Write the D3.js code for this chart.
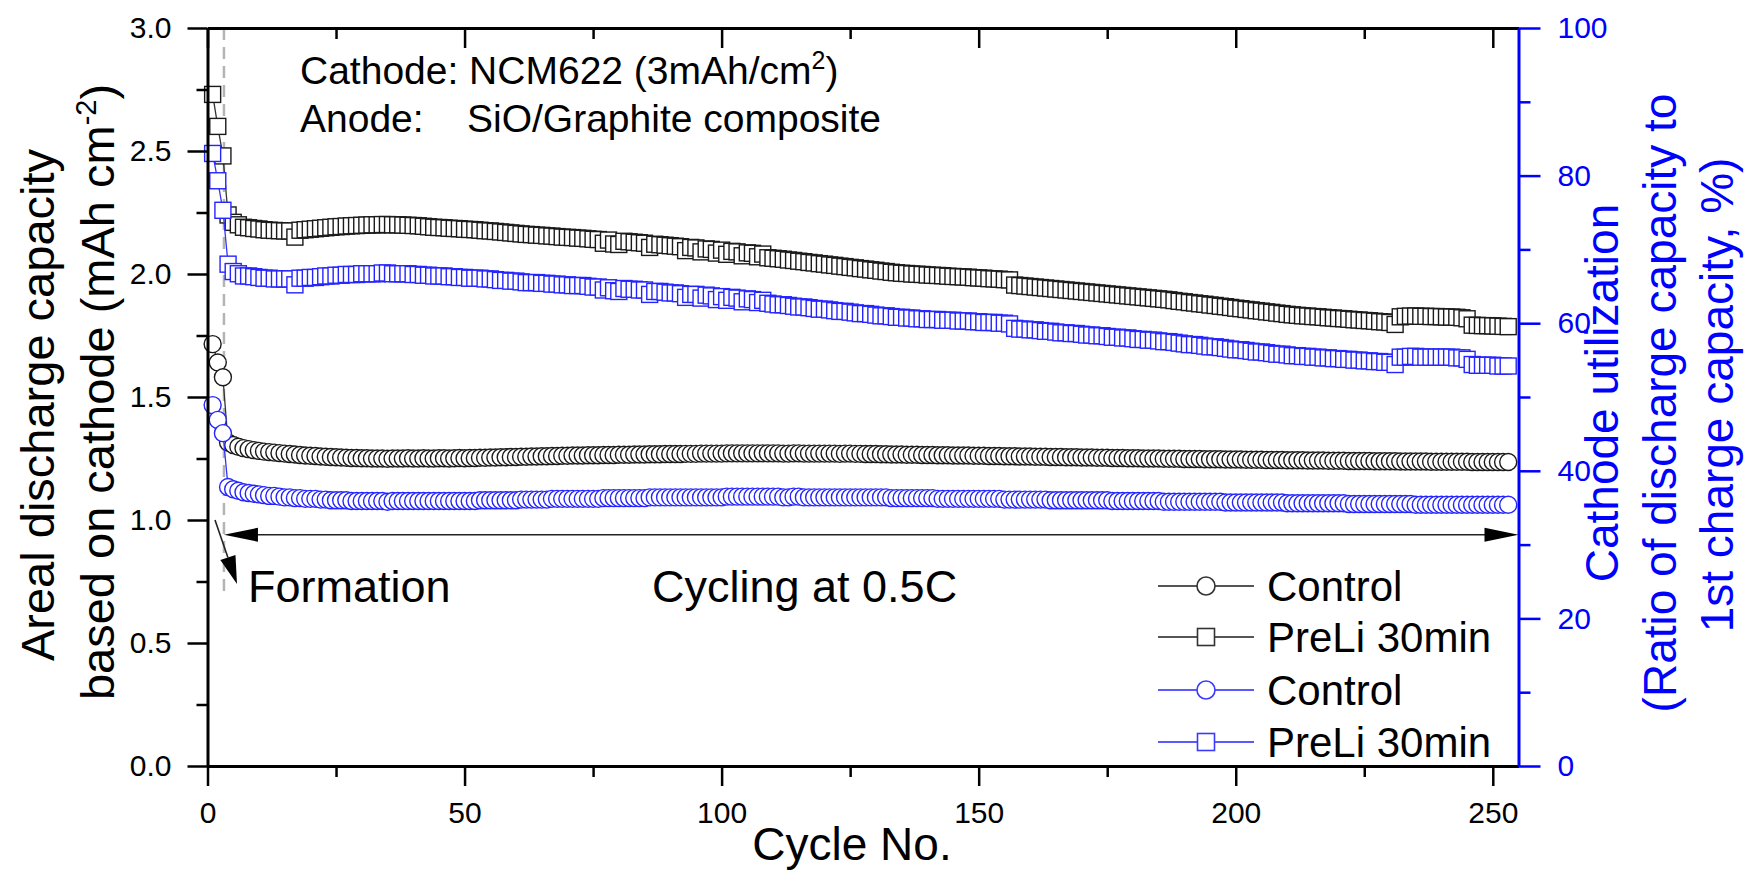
<!DOCTYPE html>
<html>
<head>
<meta charset="utf-8">
<script src="https://cdn.jsdelivr.net/npm/d3@7"></script>
<style>
  html, body { margin: 0; padding: 0; background: #fff; }
  svg { display: block; font-family: "Liberation Sans", Arial, sans-serif; }
</style>
</head>
<body>
<div id="viz"></div>
<script>
// ---- data ----
var cycles = d3.range(1, 254);   // cycle numbers 1..253

// PreLi 30min, areal discharge capacity (mAh cm-2), left axis
var preliArea = [
  2.73, 2.60, 2.48, 2.24, 2.21, 2.20, 2.19, 2.188, 2.185, 2.183,
  2.18, 2.178, 2.177, 2.176, 2.175, 2.175, 2.15, 2.178, 2.18, 2.182,
  2.184, 2.186, 2.188, 2.19, 2.192, 2.193, 2.195, 2.196, 2.197, 2.198,
  2.199, 2.20, 2.20, 2.201, 2.201, 2.20, 2.20, 2.199, 2.198, 2.197,
  2.196, 2.194, 2.192, 2.19, 2.189, 2.188, 2.186, 2.185, 2.184, 2.182,
  2.181, 2.18, 2.178, 2.176, 2.175, 2.173, 2.171, 2.169, 2.167, 2.165,
  2.163, 2.161, 2.16, 2.158, 2.157, 2.155, 2.154, 2.152, 2.15, 2.149,
  2.148, 2.146, 2.145, 2.143, 2.141, 2.14, 2.125, 2.138, 2.122, 2.12,
  2.133, 2.131, 2.129, 2.127, 2.125, 2.108, 2.121, 2.119, 2.117, 2.115,
  2.113, 2.111, 2.095, 2.108, 2.106, 2.09, 2.102, 2.10, 2.085, 2.097,
  2.08, 2.092, 2.09, 2.074, 2.086, 2.084, 2.07, 2.081, 2.066, 2.064,
  2.062, 2.06, 2.057, 2.055, 2.052, 2.05, 2.047, 2.045, 2.042, 2.04,
  2.037, 2.035, 2.032, 2.03, 2.027, 2.025, 2.022, 2.02, 2.017, 2.015,
  2.012, 2.01, 2.007, 2.005, 2.003, 2.002, 2.0, 1.999, 1.998, 1.996,
  1.995, 1.994, 1.993, 1.991, 1.99, 1.989, 1.988, 1.987, 1.985, 1.984,
  1.983, 1.981, 1.98, 1.979, 1.977, 1.976, 1.955, 1.953, 1.951, 1.949,
  1.947, 1.945, 1.943, 1.941, 1.939, 1.937, 1.935, 1.933, 1.931, 1.929,
  1.927, 1.925, 1.923, 1.921, 1.919, 1.917, 1.915, 1.913, 1.911, 1.909,
  1.907, 1.905, 1.903, 1.901, 1.899, 1.897, 1.895, 1.892, 1.889, 1.887,
  1.884, 1.882, 1.879, 1.877, 1.874, 1.872, 1.869, 1.867, 1.864, 1.861,
  1.859, 1.856, 1.854, 1.851, 1.849, 1.846, 1.844, 1.841, 1.839, 1.836,
  1.834, 1.832, 1.83, 1.829, 1.827, 1.826, 1.824, 1.822, 1.821, 1.819,
  1.818, 1.816, 1.814, 1.813, 1.811, 1.81, 1.808, 1.806, 1.805, 1.803,
  1.795, 1.826, 1.828, 1.829, 1.829, 1.828, 1.828, 1.827, 1.827, 1.826,
  1.825, 1.825, 1.824, 1.822, 1.818, 1.792, 1.791, 1.79, 1.79, 1.789,
  1.788, 1.787, 1.786
];

// Control, areal discharge capacity (mAh cm-2), left axis
var controlArea = [
  1.715, 1.64, 1.58, 1.315, 1.305, 1.298, 1.292, 1.288, 1.284, 1.281,
  1.278, 1.276, 1.274, 1.272, 1.27, 1.268, 1.266, 1.264, 1.262, 1.261,
  1.26, 1.258, 1.257, 1.256, 1.255, 1.254, 1.253, 1.252, 1.252, 1.251,
  1.251, 1.25, 1.25, 1.25, 1.249, 1.25, 1.25, 1.25, 1.251, 1.25,
  1.25, 1.251, 1.25, 1.25, 1.251, 1.251, 1.25, 1.251, 1.252, 1.251,
  1.252, 1.252, 1.253, 1.253, 1.254, 1.254, 1.255, 1.255, 1.256, 1.256,
  1.257, 1.257, 1.258, 1.258, 1.259, 1.259, 1.26, 1.26, 1.261, 1.261,
  1.262, 1.262, 1.262, 1.263, 1.263, 1.263, 1.264, 1.264, 1.264, 1.265,
  1.265, 1.265, 1.266, 1.266, 1.266, 1.267, 1.267, 1.267, 1.268, 1.268,
  1.268, 1.268, 1.269, 1.269, 1.269, 1.27, 1.27, 1.27, 1.27, 1.27,
  1.271, 1.271, 1.271, 1.271, 1.271, 1.271, 1.271, 1.271, 1.271, 1.271,
  1.271, 1.27, 1.27, 1.271, 1.271, 1.27, 1.27, 1.27, 1.27, 1.27,
  1.27, 1.27, 1.269, 1.27, 1.27, 1.269, 1.269, 1.268, 1.268, 1.268,
  1.267, 1.267, 1.266, 1.266, 1.266, 1.265, 1.265, 1.265, 1.264, 1.264,
  1.264, 1.263, 1.263, 1.263, 1.262, 1.262, 1.262, 1.262, 1.261, 1.261,
  1.261, 1.26, 1.26, 1.26, 1.259, 1.259, 1.259, 1.258, 1.258, 1.258,
  1.257, 1.257, 1.257, 1.256, 1.256, 1.256, 1.255, 1.255, 1.255, 1.254,
  1.254, 1.254, 1.253, 1.253, 1.253, 1.252, 1.252, 1.252, 1.251, 1.251,
  1.251, 1.25, 1.25, 1.25, 1.25, 1.249, 1.249, 1.249, 1.249, 1.248,
  1.248, 1.248, 1.248, 1.247, 1.247, 1.247, 1.247, 1.246, 1.246, 1.246,
  1.246, 1.245, 1.245, 1.245, 1.245, 1.244, 1.244, 1.244, 1.244, 1.243,
  1.243, 1.243, 1.243, 1.242, 1.242, 1.242, 1.242, 1.241, 1.241, 1.241,
  1.241, 1.24, 1.24, 1.24, 1.24, 1.24, 1.239, 1.239, 1.239, 1.239,
  1.239, 1.238, 1.238, 1.238, 1.238, 1.238, 1.238, 1.237, 1.237, 1.237,
  1.237, 1.237, 1.237, 1.237, 1.237, 1.236, 1.236, 1.236, 1.236, 1.236,
  1.236, 1.236, 1.236
];

// PreLi 30min, cathode utilization (%), right axis
var preliUtil = [
  83.0, 79.3, 75.3, 68.0, 67.0, 66.7, 66.4, 66.4, 66.3, 66.2,
  66.1, 66.1, 66.0, 66.0, 66.0, 66.0, 65.2, 66.1, 66.1, 66.2,
  66.2, 66.3, 66.4, 66.4, 66.5, 66.5, 66.6, 66.6, 66.6, 66.7,
  66.7, 66.7, 66.7, 66.8, 66.8, 66.7, 66.7, 66.7, 66.7, 66.6,
  66.6, 66.5, 66.5, 66.4, 66.4, 66.4, 66.3, 66.3, 66.2, 66.2,
  66.1, 66.1, 66.1, 66.0, 66.0, 65.9, 65.8, 65.8, 65.7, 65.7,
  65.6, 65.5, 65.5, 65.5, 65.4, 65.4, 65.3, 65.3, 65.2, 65.2,
  65.1, 65.1, 65.1, 65.0, 64.9, 64.9, 64.5, 64.8, 64.4, 64.3,
  64.7, 64.6, 64.6, 64.5, 64.5, 63.9, 64.3, 64.3, 64.2, 64.1,
  64.1, 64.0, 63.5, 63.9, 63.9, 63.4, 63.8, 63.7, 63.2, 63.6,
  63.1, 63.5, 63.4, 62.9, 63.3, 63.2, 62.8, 63.1, 62.7, 62.6,
  62.5, 62.5, 62.4, 62.3, 62.2, 62.2, 62.1, 62.0, 61.9, 61.9,
  61.8, 61.7, 61.6, 61.6, 61.5, 61.4, 61.3, 61.3, 61.2, 61.1,
  61.0, 61.0, 60.9, 60.8, 60.8, 60.7, 60.7, 60.6, 60.6, 60.5,
  60.5, 60.5, 60.4, 60.4, 60.4, 60.3, 60.3, 60.3, 60.2, 60.2,
  60.1, 60.1, 60.1, 60.0, 60.0, 59.9, 59.3, 59.2, 59.2, 59.1,
  59.1, 59.0, 58.9, 58.9, 58.8, 58.7, 58.7, 58.6, 58.6, 58.5,
  58.4, 58.4, 58.3, 58.3, 58.2, 58.1, 58.1, 58.0, 58.0, 57.9,
  57.8, 57.8, 57.7, 57.7, 57.6, 57.5, 57.5, 57.4, 57.3, 57.2,
  57.1, 57.1, 57.0, 56.9, 56.8, 56.8, 56.7, 56.6, 56.5, 56.4,
  56.4, 56.3, 56.2, 56.1, 56.1, 56.0, 55.9, 55.8, 55.8, 55.7,
  55.6, 55.6, 55.5, 55.5, 55.4, 55.4, 55.3, 55.3, 55.2, 55.2,
  55.1, 55.1, 55.0, 55.0, 54.9, 54.9, 54.8, 54.8, 54.7, 54.7,
  54.4, 55.4, 55.4, 55.5, 55.5, 55.4, 55.4, 55.4, 55.4, 55.4,
  55.4, 55.4, 55.3, 55.3, 55.1, 54.4, 54.3, 54.3, 54.3, 54.3,
  54.2, 54.2, 54.2
];

// Control, cathode utilization (%), right axis
var controlUtil = [
  48.9, 46.9, 45.1, 37.8, 37.5, 37.3, 37.1, 37.0, 36.9, 36.8,
  36.7, 36.6, 36.6, 36.5, 36.4, 36.4, 36.3, 36.3, 36.2, 36.2,
  36.2, 36.1, 36.1, 36.0, 36.0, 36.0, 36.0, 35.9, 35.9, 35.9,
  35.9, 35.9, 35.9, 35.9, 35.8, 35.9, 35.9, 35.9, 35.9, 35.9,
  35.9, 35.9, 35.9, 35.9, 35.9, 35.9, 35.9, 35.9, 35.9, 35.9,
  35.9, 35.9, 36.0, 36.0, 36.0, 36.0, 36.0, 36.0, 36.0, 36.0,
  36.1, 36.1, 36.1, 36.1, 36.1, 36.1, 36.2, 36.2, 36.2, 36.2,
  36.2, 36.2, 36.2, 36.2, 36.2, 36.2, 36.3, 36.3, 36.3, 36.3,
  36.3, 36.3, 36.3, 36.3, 36.3, 36.4, 36.4, 36.4, 36.4, 36.4,
  36.4, 36.4, 36.4, 36.4, 36.4, 36.4, 36.4, 36.4, 36.4, 36.4,
  36.5, 36.5, 36.5, 36.5, 36.5, 36.5, 36.5, 36.5, 36.5, 36.5,
  36.5, 36.4, 36.4, 36.5, 36.5, 36.4, 36.4, 36.4, 36.4, 36.4,
  36.4, 36.4, 36.4, 36.4, 36.4, 36.4, 36.4, 36.4, 36.4, 36.4,
  36.4, 36.4, 36.3, 36.3, 36.3, 36.3, 36.3, 36.3, 36.3, 36.3,
  36.3, 36.2, 36.2, 36.2, 36.2, 36.2, 36.2, 36.2, 36.2, 36.2,
  36.2, 36.2, 36.2, 36.2, 36.1, 36.1, 36.1, 36.1, 36.1, 36.1,
  36.1, 36.1, 36.1, 36.0, 36.0, 36.0, 36.0, 36.0, 36.0, 36.0,
  36.0, 36.0, 36.0, 36.0, 36.0, 35.9, 35.9, 35.9, 35.9, 35.9,
  35.9, 35.9, 35.9, 35.9, 35.9, 35.8, 35.8, 35.8, 35.8, 35.8,
  35.8, 35.8, 35.8, 35.8, 35.8, 35.8, 35.8, 35.7, 35.7, 35.7,
  35.7, 35.7, 35.7, 35.7, 35.7, 35.7, 35.7, 35.7, 35.7, 35.6,
  35.6, 35.6, 35.6, 35.6, 35.6, 35.6, 35.6, 35.6, 35.6, 35.6,
  35.6, 35.5, 35.5, 35.5, 35.5, 35.5, 35.5, 35.5, 35.5, 35.5,
  35.5, 35.5, 35.5, 35.5, 35.4, 35.4, 35.4, 35.4, 35.4, 35.4,
  35.4, 35.4, 35.4, 35.4, 35.4, 35.4, 35.4, 35.4, 35.4, 35.4,
  35.4, 35.4, 35.4
];

var xTicks = [0, 50, 100, 150, 200, 250];
var xMinorTicks = [25, 75, 125, 175, 225];
var yLeftTicks = [0, 0.5, 1.0, 1.5, 2.0, 2.5, 3.0];
var yLeftMinor = [0.25, 0.75, 1.25, 1.75, 2.25, 2.75];
var yRightTicks = [0, 20, 40, 60, 80, 100];
var yRightMinor = [10, 30, 50, 70, 90];
var legendLabels = ["Control", "PreLi 30min", "Control", "PreLi 30min"];

var formationEnd = 3.2;   // dashed separator, in cycles

// ---- layout ----
var W = 1748, H = 871;
var plotLeft = 207.5, plotRight = 1518.5, plotTop = 28, plotBottom = 766;
var BLACK = "#1a1a1a", BLUE = "#0000ff", BLUE_MK = "#2424ff";
var FONT = "'Liberation Sans', Arial, sans-serif";

var x = d3.scaleLinear().domain([0, 255]).range([plotLeft, plotRight]);
var yL = d3.scaleLinear().domain([0, 3]).range([plotBottom, plotTop]);
var yR = d3.scaleLinear().domain([0, 100]).range([plotBottom, plotTop]);

var svg = d3.select("#viz").append("svg")
    .attr("width", W)
    .attr("height", H);

svg.append("rect").attr("width", W).attr("height", H).attr("fill", "#fff");

// dashed line marking end of formation
svg.append("line")
    .attr("x1", x(formationEnd)).attr("x2", x(formationEnd))
    .attr("y1", plotTop).attr("y2", 596)
    .attr("stroke", "#b4b4b4")
    .attr("stroke-width", 2.5)
    .attr("stroke-dasharray", "12,7");

// ---- series ----
var series = [
    {values: controlArea, y: yL, stroke: BLACK, line: "#333", shape: "circle"},
    {values: preliArea,   y: yL, stroke: BLACK, line: "#333", shape: "square"},
    {values: controlUtil, y: yR, stroke: BLUE_MK, line: "#3434ff", shape: "circle"},
    {values: preliUtil,   y: yR, stroke: BLUE_MK, line: "#3434ff", shape: "square"}
];

series.forEach(function(s){
    var pts = s.values.map(function(v, i){ return [cycles[i], v]; });
    svg.append("path")
        .datum(pts)
        .attr("fill", "none")
        .attr("stroke", s.line)
        .attr("stroke-width", 1.3)
        .attr("d", d3.line()
            .x(function(d){ return x(d[0]); })
            .y(function(d){ return s.y(d[1]); }));

    var g = svg.append("g");
    if (s.shape == "circle") {
        g.selectAll("circle")
            .data(pts)
            .enter().append("circle")
            .attr("cx", function(d){ return x(d[0]); })
            .attr("cy", function(d){ return s.y(d[1]); })
            .attr("r", 8.5)
            .attr("fill", "#fff")
            .attr("stroke", s.stroke)
            .attr("stroke-width", 1.4);
    } else {
        g.selectAll("rect")
            .data(pts)
            .enter().append("rect")
            .attr("x", function(d){ return x(d[0]) - 8; })
            .attr("y", function(d){ return s.y(d[1]) - 8; })
            .attr("width", 16)
            .attr("height", 16)
            .attr("fill", "#fff")
            .attr("stroke", s.stroke)
            .attr("stroke-width", 1.4);
    }
});

// ---- axes ----
function styleAxis(g, color, labelSize) {
    g.attr("font-family", FONT).attr("font-size", labelSize);
    g.select(".domain").attr("stroke", color).attr("stroke-width", 3);
    g.selectAll(".tick line").attr("stroke", color).attr("stroke-width", 2.5);
    g.selectAll(".tick text").attr("fill", color);
}

// bottom
svg.append("g")
    .attr("transform", "translate(0," + plotBottom + ")")
    .call(d3.axisBottom(x).tickValues(xTicks).tickSizeInner(20).tickSizeOuter(0).tickPadding(16))
    .call(styleAxis, "#000", 30);
svg.append("g")
    .attr("transform", "translate(0," + plotBottom + ")")
    .call(d3.axisBottom(x).tickValues(xMinorTicks).tickSize(11).tickFormat(""))
    .call(styleAxis, "#000", 30)
    .select(".domain").remove();

// top (inward ticks, no labels)
svg.append("g")
    .attr("transform", "translate(0," + plotTop + ")")
    .call(d3.axisTop(x).tickValues(xTicks).tickSizeInner(-20).tickSizeOuter(0).tickFormat(""))
    .call(styleAxis, "#000", 30);
svg.append("g")
    .attr("transform", "translate(0," + plotTop + ")")
    .call(d3.axisTop(x).tickValues(xMinorTicks).tickSize(-11).tickFormat(""))
    .call(styleAxis, "#000", 30)
    .select(".domain").remove();

// left
svg.append("g")
    .attr("transform", "translate(" + plotLeft + ",0)")
    .call(d3.axisLeft(yL).tickValues(yLeftTicks).tickSizeInner(20).tickSizeOuter(0)
        .tickPadding(16).tickFormat(d3.format(".1f")))
    .call(styleAxis, "#000", 30);
svg.append("g")
    .attr("transform", "translate(" + plotLeft + ",0)")
    .call(d3.axisLeft(yL).tickValues(yLeftMinor).tickSize(11).tickFormat(""))
    .call(styleAxis, "#000", 30)
    .select(".domain").remove();

// right (blue)
svg.append("g")
    .attr("transform", "translate(" + plotRight + ",0)")
    .call(d3.axisRight(yR).tickValues(yRightTicks).tickSizeInner(22).tickSizeOuter(0).tickPadding(17))
    .call(styleAxis, BLUE, 30);
svg.append("g")
    .attr("transform", "translate(" + plotRight + ",0)")
    .call(d3.axisRight(yR).tickValues(yRightMinor).tickSize(12).tickFormat(""))
    .call(styleAxis, BLUE, 30)
    .select(".domain").remove();

// ---- axis titles ----
svg.append("text")
    .attr("x", 852).attr("y", 860)
    .attr("text-anchor", "middle")
    .attr("font-size", 46)
    .attr("font-family", FONT)
    .text("Cycle No.");

svg.append("text")
    .attr("transform", "translate(54,405) rotate(-90)")
    .attr("text-anchor", "middle")
    .attr("font-size", 47)
    .attr("font-family", FONT)
    .text("Areal discharge capacity");

var lt = svg.append("text")
    .attr("transform", "translate(114,392) rotate(-90)")
    .attr("text-anchor", "middle")
    .attr("font-size", 47)
    .attr("font-family", FONT);
lt.append("tspan").text("based on cathode (mAh cm");
lt.append("tspan").attr("font-size", 29).attr("dy", -18).text("-2");
lt.append("tspan").attr("dy", 18).text(")");

var rightTitle = ["Cathode utilization", "(Ratio of discharge capacity to", "1st charge capacity, %)"];
var rightX = [1618, 1676, 1733];
var rightY = [393, 403, 395];
rightTitle.forEach(function(t, i){
    svg.append("text")
        .attr("transform", "translate(" + rightX[i] + "," + rightY[i] + ") rotate(-90)")
        .attr("text-anchor", "middle")
        .attr("font-size", 46)
        .attr("font-family", FONT)
        .attr("fill", BLUE)
        .text(t);
});

// ---- annotations ----
var cat = svg.append("text")
    .attr("x", 300).attr("y", 84)
    .attr("font-size", 39)
    .attr("font-family", FONT);
cat.append("tspan").text("Cathode: NCM622 (3mAh/cm");
cat.append("tspan").attr("font-size", 25).attr("dy", -15).text("2");
cat.append("tspan").attr("dy", 15).text(")");

svg.append("text")
    .attr("x", 300).attr("y", 132)
    .attr("font-size", 39)
    .attr("font-family", FONT)
    .text("Anode:");
svg.append("text")
    .attr("x", 467).attr("y", 132)
    .attr("font-size", 39)
    .attr("font-family", FONT)
    .text("SiO/Graphite composite");

svg.append("text")
    .attr("x", 248).attr("y", 602)
    .attr("font-size", 45)
    .attr("font-family", FONT)
    .text("Formation");

svg.append("text")
    .attr("x", 652).attr("y", 602)
    .attr("font-size", 45)
    .attr("font-family", FONT)
    .text("Cycling at 0.5C");

// double-headed arrow for the cycling span
var ay = yL(0.94), ax0 = x(formationEnd), ax1 = plotRight;
svg.append("line")
    .attr("x1", ax0 + 20).attr("x2", ax1 - 20)
    .attr("y1", ay).attr("y2", ay)
    .attr("stroke", "#222").attr("stroke-width", 1.6);
svg.append("polygon")
    .attr("points", [[ax0, ay], [ax0 + 34, ay - 7], [ax0 + 34, ay + 7]].join(" "))
    .attr("fill", "#000");
svg.append("polygon")
    .attr("points", [[ax1, ay], [ax1 - 34, ay - 7], [ax1 - 34, ay + 7]].join(" "))
    .attr("fill", "#000");

// formation arrow
var f0 = [215, 520], f1 = [237, 584];
var dx = f1[0] - f0[0], dy = f1[1] - f0[1], len = Math.sqrt(dx * dx + dy * dy);
var ux = dx / len, uy = dy / len;
var bx = f1[0] - 28 * ux, by = f1[1] - 28 * uy;
svg.append("line")
    .attr("x1", f0[0]).attr("y1", f0[1])
    .attr("x2", bx).attr("y2", by)
    .attr("stroke", "#222").attr("stroke-width", 1.6);
svg.append("polygon")
    .attr("points", [f1, [bx - 8 * uy, by + 8 * ux], [bx + 8 * uy, by - 8 * ux]].join(" "))
    .attr("fill", "#000");

// ---- legend ----
var legendRows = [586, 637, 690, 742];
var legendItems = [
    {shape: "circle", stroke: "#333", line: "#555"},
    {shape: "square", stroke: "#333", line: "#555"},
    {shape: "circle", stroke: "#3a3aff", line: "#5a5aff"},
    {shape: "square", stroke: "#3a3aff", line: "#5a5aff"}
];
legendItems.forEach(function(it, i){
    var ly = legendRows[i];
    svg.append("line")
        .attr("x1", 1158).attr("x2", 1254)
        .attr("y1", ly).attr("y2", ly)
        .attr("stroke", it.line).attr("stroke-width", 1.8);
    if (it.shape == "circle") {
        svg.append("circle")
            .attr("cx", 1206).attr("cy", ly).attr("r", 9)
            .attr("fill", "#fff").attr("stroke", it.stroke).attr("stroke-width", 1.6);
    } else {
        svg.append("rect")
            .attr("x", 1206 - 8.5).attr("y", ly - 8.5)
            .attr("width", 17).attr("height", 17)
            .attr("fill", "#fff").attr("stroke", it.stroke).attr("stroke-width", 1.6);
    }
    svg.append("text")
        .attr("x", 1267).attr("y", ly + 15)
        .attr("font-size", 42)
        .attr("font-family", FONT)
        .text(legendLabels[i]);
});
</script>
</body>
</html>
